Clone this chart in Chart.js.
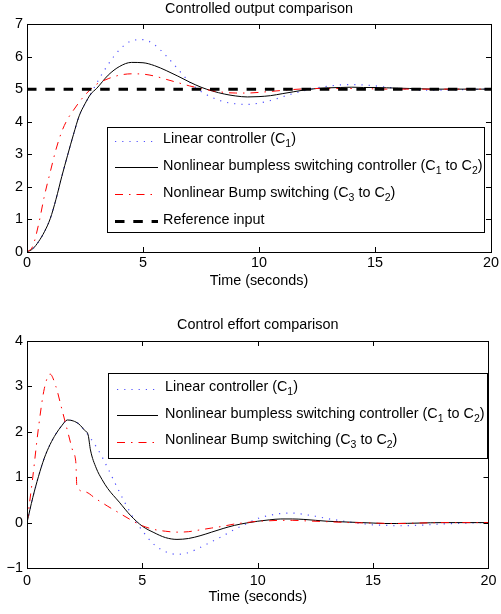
<!DOCTYPE html>
<html>
<head>
<meta charset="utf-8">
<script src="https://cdn.jsdelivr.net/npm/chart.js@4.4.1/dist/chart.umd.min.js"></script>
<style>
body { margin: 0; background: #fff; }
canvas { display: block; }
</style>
</head>
<body>
<canvas id="outputChart" width="501" height="307"></canvas>
<canvas id="effortChart" width="501" height="307"></canvas>
<script>
// controlled output (top plot)
const tOut = [0,0.25,0.5,0.75,1,1.25,1.5,1.75,2,2.25,2.5,2.75,3,3.5,4,4.5,5,5.5,6,6.5,7,7.5,8,8.5,9,9.5,10,10.5,11,11.5,12,12.5,13,13.5,14,14.5,15,15.5,16,16.5,17,17.5,18,19,20];
const linearOut = [0,0.1,0.32,0.62,1.02,1.62,2.32,2.97,3.6,4.18,4.55,4.85,5.18,5.76,6.22,6.48,6.52,6.36,6.02,5.62,5.22,4.93,4.74,4.61,4.55,4.53,4.57,4.65,4.76,4.87,4.96,5.04,5.09,5.13,5.14,5.13,5.1,5.06,5.02,4.99,4.97,4.97,4.97,4.99,5.0];
const bumplessOut = [0,0.1,0.32,0.62,1.02,1.62,2.32,2.97,3.6,4.18,4.55,4.85,5.02,5.43,5.7,5.82,5.81,5.72,5.57,5.4,5.22,5.06,4.94,4.85,4.79,4.76,4.77,4.8,4.86,4.92,4.98,5.02,5.04,5.05,5.06,5.05,5.05,5.04,5.03,5.02,5.01,5.0,5.0,5.0,5.0];
const bumpOut = [0,0.18,0.85,1.72,2.45,3.15,3.7,4.08,4.35,4.6,4.82,5.0,5.15,5.32,5.43,5.47,5.46,5.4,5.3,5.2,5.1,5.02,4.95,4.9,4.88,4.88,4.9,4.93,4.96,4.99,5.01,5.02,5.02,5.02,5.02,5.01,5.01,5.0,5.0,5.0,5.0,5.0,5.0,5.0,5.0];
const tRef = [0, 20];
const refOut = [5, 5];

// control effort (bottom plot)
const tEffort = [0,0.25,0.5,0.75,1,1.25,1.5,1.75,2,2.25,2.5,2.65,2.75,3,3.25,3.5,4,4.5,5,5.5,6,6.5,7,7.5,8,8.5,9,9.5,10,10.5,11,11.5,12,12.5,13,13.5,14,14.5,15,15.5,16,17,18,19,20];
const linearEffort = [0,0.55,1.02,1.42,1.72,1.95,2.13,2.26,2.24,2.17,2.03,1.93,1.86,1.67,1.45,1.2,0.68,0.2,-0.18,-0.48,-0.64,-0.7,-0.66,-0.55,-0.42,-0.29,-0.15,-0.03,0.09,0.16,0.2,0.21,0.18,0.14,0.09,0.05,0.01,-0.02,-0.05,-0.06,-0.07,-0.06,-0.03,-0.01,0];
const bumplessEffort = [0,0.55,1.02,1.42,1.72,1.95,2.13,2.26,2.24,2.17,2.03,1.93,1.6,1.2,0.95,0.75,0.45,0.15,-0.08,-0.22,-0.33,-0.37,-0.35,-0.29,-0.21,-0.13,-0.06,-0.01,0.03,0.06,0.08,0.08,0.07,0.05,0.03,0.02,0.01,0,-0.01,-0.02,-0.02,-0.01,0,0,0];
const tBump = [0,0.25,0.5,0.75,1,1.25,1.5,1.75,2,2.12,2.16,2.5,3,3.5,4,4.5,5,5.5,6,6.5,7,7.5,8,8.5,9,9.5,10,10.5,11,11.5,12,13,14,15,16,17,18,19,20];
const bumpEffort = [0,1.0,2.1,2.95,3.27,3.0,2.52,2.03,1.55,1.3,0.8,0.68,0.52,0.36,0.21,0.06,-0.07,-0.15,-0.19,-0.21,-0.2,-0.16,-0.12,-0.08,-0.03,0,0.03,0.04,0.05,0.05,0.04,0.02,0,-0.01,-0.02,-0.01,0,0,0];

const xTicks = [0, 5, 10, 15, 20];
const yTicksOut = [0, 1, 2, 3, 4, 5, 6, 7];
const yTicksEffort = [-1, 0, 1, 2, 3, 4];

const labels = [
  'Linear controller (C\u2081)',
  'Nonlinear bumpless switching controller (C\u2081 to C\u2082)',
  'Nonlinear Bump switching (C\u2083 to C\u2082)',
  'Reference input'
];

const FONT = "'Liberation Sans', Arial, Helvetica, sans-serif";
const FSIZE = 14.4;
Chart.defaults.font.family = FONT;
Chart.defaults.font.size = FSIZE;
Chart.defaults.color = '#000';

const pts = (t, v) => t.map((x, i) => ({x: x, y: v[i]}));

const styles = [
  {borderColor: 'rgba(50,50,255,0.85)', borderWidth: 1.2, borderDash: [1.2, 6]},
  {borderColor: '#000000', borderWidth: 1, borderDash: []},
  {borderColor: '#ff0000', borderWidth: 1, borderDash: [8, 6, 1.5, 6]},
  {borderColor: '#000000', borderWidth: 3, borderDash: [9.5, 8.8]}
];

// box round the axes and inward ticks, matlab style
const boxAxes = {
  id: 'boxAxes',
  afterDatasetsDraw(chart) {
    const {ctx, chartArea: a} = chart;
    const xs = chart.scales.x, ys = chart.scales.y;
    ctx.save();
    ctx.strokeStyle = '#000';
    ctx.lineWidth = 1;
    ctx.beginPath();
    xs.ticks.forEach(tk => {
      const px = Math.round(xs.getPixelForValue(tk.value)) + 0.5;
      ctx.moveTo(px, a.bottom); ctx.lineTo(px, a.bottom - 5);
      ctx.moveTo(px, a.top); ctx.lineTo(px, a.top + 5);
    });
    ys.ticks.forEach(tk => {
      const py = Math.round(ys.getPixelForValue(tk.value)) + 0.5;
      ctx.moveTo(a.left, py); ctx.lineTo(a.left + 5, py);
      ctx.moveTo(a.right, py); ctx.lineTo(a.right - 5, py);
    });
    ctx.stroke();
    ctx.strokeRect(Math.round(a.left) + 0.5, Math.round(a.top) + 0.5,
      Math.round(a.right - a.left), Math.round(a.bottom - a.top));
    ctx.restore();
  }
};

function drawLabel(ctx, text, x, y) {
  const subs = {'\u2081': '1', '\u2082': '2', '\u2083': '3'};
  let cx = x;
  for (const ch of text) {
    if (subs[ch]) {
      ctx.font = '10.5px ' + FONT;
      ctx.fillText(subs[ch], cx, y + 5);
      cx += ctx.measureText(subs[ch]).width;
    } else {
      ctx.font = FSIZE + 'px ' + FONT;
      ctx.fillText(ch, cx, y);
      cx += ctx.measureText(ch).width;
    }
  }
}

const boxLegend = {
  id: 'boxLegend',
  afterDraw(chart, args, opts) {
    const ctx = chart.ctx;
    const [x0, y0, x1, y1] = opts.box;
    ctx.save();
    ctx.fillStyle = '#fff';
    ctx.fillRect(x0, y0, x1 - x0, y1 - y0);
    ctx.strokeStyle = '#000';
    ctx.lineWidth = 1;
    ctx.setLineDash([]);
    ctx.strokeRect(x0 + 0.5, y0 + 0.5, x1 - x0, y1 - y0);
    chart.data.datasets.forEach((ds, i) => {
      const y = opts.rows[i];
      const ly = Math.round(y + 1) + 0.5;
      ctx.beginPath();
      ctx.strokeStyle = ds.borderColor;
      ctx.lineWidth = ds.borderWidth;
      ctx.setLineDash(ds.borderDash || []);
      ctx.moveTo(opts.lineX[0], ly);
      ctx.lineTo(opts.lineX[1], ly);
      ctx.stroke();
      ctx.setLineDash([]);
      ctx.fillStyle = '#000';
      ctx.textBaseline = 'middle';
      ctx.textAlign = 'left';
      drawLabel(ctx, ds.label, opts.textX, y);
    });
    ctx.restore();
  }
};

function makeOptions(cfg) {
  return {
    responsive: false,
    animation: false,
    events: [],
    layout: {autoPadding: false, padding: {left: 0, right: 5, top: 0, bottom: 0}},
    elements: {point: {radius: 0}, line: {cubicInterpolationMode: 'monotone'}},
    scales: {
      x: {
        type: 'linear', min: 0, max: 20,
        grid: {display: false, drawTicks: false}, border: {display: false},
        afterBuildTicks: s => { s.ticks = xTicks.map(v => ({value: v})); },
        ticks: {padding: cfg.xPad, maxRotation: 0, autoSkip: false, color: '#000'},
        title: {display: true, text: 'Time (seconds)', color: '#000', padding: {top: 0, bottom: cfg.xTitlePad}},
        afterFit: s => { s.height = cfg.xHeight; }
      },
      y: {
        min: cfg.yTicks[0], max: cfg.yTicks[cfg.yTicks.length - 1],
        grid: {display: false, drawTicks: false}, border: {display: false},
        afterBuildTicks: s => { s.ticks = cfg.yTicks.map(v => ({value: v})); },
        ticks: {padding: 4, color: '#000', callback: v => v < 0 ? '\u2212' + Math.abs(v) : String(v)},
        afterFit: s => { s.width = 27; }
      }
    },
    plugins: {
      legend: {display: false},
      tooltip: {enabled: false},
      title: {
        display: true, text: cfg.title, fullSize: false, color: '#000',
        font: {size: FSIZE, weight: 'normal'},
        padding: {top: cfg.titleTop, bottom: cfg.titleBottom}
      },
      boxLegend: cfg.legend
    }
  };
}

new Chart(document.getElementById('outputChart'), {
  type: 'line',
  data: {
    datasets: [
      Object.assign({label: labels[0], data: pts(tOut, linearOut), order: 3}, styles[0]),
      Object.assign({label: labels[1], data: pts(tOut, bumplessOut), order: 2}, styles[1]),
      Object.assign({label: labels[2], data: pts(tOut, bumpOut), order: 1}, styles[2]),
      Object.assign({label: labels[3], data: pts(tRef, refOut), order: 0}, styles[3])
    ]
  },
  options: makeOptions({
    title: 'Controlled output comparison', titleTop: 0, titleBottom: 6.7,
    xHeight: 55, xPad: 2, xTitlePad: 17.4, yTicks: yTicksOut,
    legend: {box: [107, 127, 484, 232], rows: [139.5, 166.3, 193, 219.7], lineX: [115, 158], textX: 163}
  }),
  plugins: [boxAxes, boxLegend]
});

new Chart(document.getElementById('effortChart'), {
  type: 'line',
  data: {
    datasets: [
      Object.assign({label: labels[0], data: pts(tEffort, linearEffort), order: 3}, styles[0]),
      Object.assign({label: labels[1], data: pts(tEffort, bumplessEffort), order: 2}, styles[1]),
      Object.assign({label: labels[2], data: pts(tBump, bumpEffort), order: 1}, styles[2])
    ]
  },
  options: makeOptions({
    title: 'Control effort comparison', titleTop: 8.9, titleBottom: 7.8,
    xHeight: 46, xPad: 4.5, xTitlePad: 7.9, yTicks: yTicksEffort,
    legend: {box: [108, 66, 487, 151], rows: [80.5, 107, 133.5], lineX: [117, 158], textX: 165}
  }),
  plugins: [boxAxes, boxLegend]
});
</script>
</body>
</html>
